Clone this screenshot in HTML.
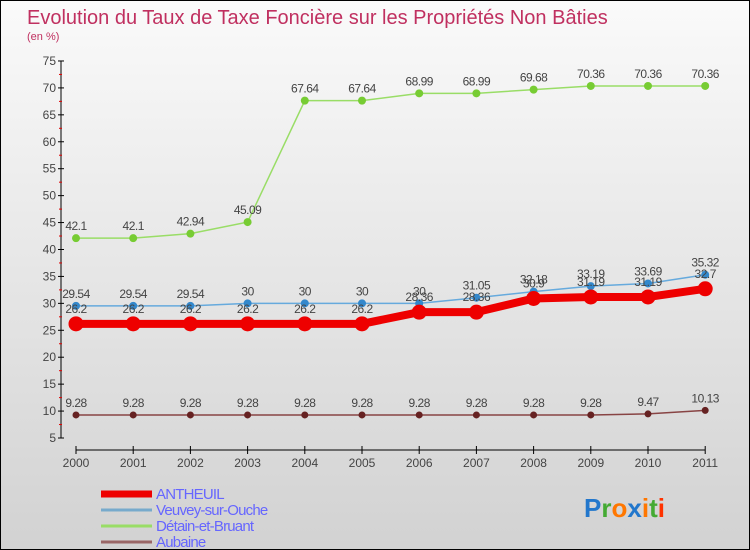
<!DOCTYPE html>
<html><head><meta charset="utf-8"><style>
body{margin:0}
#c{width:750px;height:550px;position:relative;box-sizing:border-box;border:1px solid #000;background:linear-gradient(#fafafa,#d2d2d2);font-family:"Liberation Sans",sans-serif;overflow:hidden}
</style></head><body>
<div id="c">
<svg id="s" width="748" height="548" style="position:absolute;left:0;top:0">
<text x="26" y="23" font-size="20" fill="#c03060">Evolution du Taux de Taxe Foncière sur les Propriétés Non Bâties</text>
<text x="26" y="39" font-size="11" fill="#c03060">(en %)</text>
</svg>
</div>
<script>
const years=[2000,2001,2002,2003,2004,2005,2006,2007,2008,2009,2010,2011];
const yTicks=[5,10,15,20,25,30,35,40,45,50,55,60,65,70,75];
const antheuil=[26.2,26.2,26.2,26.2,26.2,26.2,28.36,28.36,30.9,31.19,31.19,32.7];
const antheuilLabels=["26.2","26.2","26.2","26.2","26.2","26.2","28.36","28.36","30.9","31.19","31.19","32.7"];
const veuvey=[29.54,29.54,29.54,30,30,30,30,31.05,32.18,33.19,33.69,35.32];
const veuveyLabels=["29.54","29.54","29.54","30","30","30","30","31.05","32.18","33.19","33.69","35.32"];
const detain=[42.1,42.1,42.94,45.09,67.64,67.64,68.99,68.99,69.68,70.36,70.36,70.36];
const detainLabels=["42.1","42.1","42.94","45.09","67.64","67.64","68.99","68.99","69.68","70.36","70.36","70.36"];
const aubaine=[9.28,9.28,9.28,9.28,9.28,9.28,9.28,9.28,9.28,9.28,9.47,10.13];
const aubaineLabels=["9.28","9.28","9.28","9.28","9.28","9.28","9.28","9.28","9.28","9.28","9.47","10.13"];
const NS="http://www.w3.org/2000/svg";
const s=document.getElementById('s');
const X=i=>75+i*57.2;
const Y=v=>437-(v-5)*5.386;
function mk(t,a,p){const e=document.createElementNS(NS,t);for(const k in a)e.setAttribute(k,a[k]);(p||s).appendChild(e);return e;}
// y axis
const ya=mk('g',{});


mk('line',{x1:60,y1:Y(75),x2:60,y2:Y(5),stroke:'#000'},ya);
yTicks.forEach((v,i)=>{
 mk('line',{x1:57,y1:Y(v),x2:63,y2:Y(v),stroke:'#000'},ya);
 if(i<yTicks.length-1)mk('line',{x1:58,y1:Y(v+2.5),x2:61,y2:Y(v+2.5),stroke:'#e00000'},ya);
 const t=mk('text',{x:55,y:Y(v)+4,'font-size':12,fill:'#444','text-anchor':'end'},ya);t.textContent=v;
 
 
});
// x axis
const xa=mk('g',{});


mk('line',{x1:X(0),y1:449,x2:X(11),y2:449,stroke:'#000'},xa);
years.forEach((y,i)=>{
 mk('line',{x1:X(i),y1:445,x2:X(i),y2:453,stroke:'#000'},xa);
 const t=mk('text',{x:X(i),y:466,'font-size':12,fill:'#444','text-anchor':'middle'},xa);t.textContent=y;
 
 
});
function series(name,vals,labs,col,w,r,dot,off){
 const g=mk('g',{});
 
 
 mk('polyline',{points:vals.map((v,i)=>X(i)+','+Y(v)).join(' '),fill:'none',stroke:col,'stroke-width':w},g);
 vals.forEach((v,i)=>{
  const c=mk('circle',{cx:X(i),cy:Y(v),r:r,fill:dot},g);
  
  
  const t=mk('text',{x:X(i),y:Y(v)-off,'font-size':12,fill:'#444','text-anchor':'middle','letter-spacing':'-0.5'},g);t.textContent=labs[i];
  
  
 });
}
series('detain',detain,detainLabels,'#99dd66',1.5,4,'#77cc33',8);
series('aubaine',aubaine,aubaineLabels,'#884444',1.5,3.5,'#662222',8);
series('veuvey',veuvey,veuveyLabels,'#66aadd',1.5,4,'#3388cc',8);
series('antheuil',antheuil,antheuilLabels,'#ee0000',8,7.5,'#ee0000',11);
// legend
const leg=[['ANTHEUIL','#ee0000',7],['Veuvey-sur-Ouche','#77aacc',3],['Détain-et-Bruant','#99dd66',3],['Aubaine','#996666',3]];
leg.forEach((l,i)=>{
 const g=mk('g',{});
 
 
 const y=492+i*16;
 mk('line',{x1:100,y1:y+1,x2:151,y2:y+1,stroke:l[1],'stroke-width':l[2]},g);
 const t=mk('text',{x:155,y:y+6,'font-size':15,fill:'#6666ff','letter-spacing':'-0.8'},g);t.textContent=l[0];
});
// logo
const lg=mk('text',{x:583,y:516,'font-size':26,'font-weight':'bold'});


[['P','#2277cc'],['r','#44aa33'],['o','#ff7700'],['x','#2277cc'],['i','#ff7700'],['t','#44aa33'],['i','#ff3300']].forEach(c=>{const sp=mk('tspan',{fill:c[1]},lg);sp.textContent=c[0];});
</script>
</body></html>
